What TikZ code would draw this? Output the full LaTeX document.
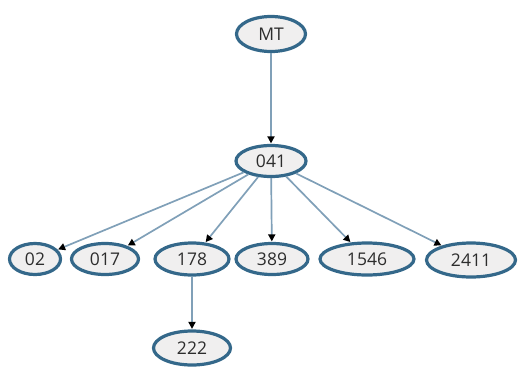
\documentclass[tikz,border=0pt]{standalone}
\usepackage{fontspec}
\setmainfont{Open Sans}
\usetikzlibrary{shapes.geometric,arrows.meta}
\definecolor{rim}{RGB}{52,104,138}
\definecolor{inside}{RGB}{240,239,239}
\definecolor{link}{RGB}{128,160,184}
\definecolor{txt}{RGB}{45,45,45}

\begin{document}
\begin{tikzpicture}[x=1pt,y=-1pt,
  nd/.style={ellipse,draw=rim,fill=inside,line width=3.2pt,inner sep=0pt,
    text=txt,font=\fontsize{17.5}{19}\selectfont},
  lnk/.style={draw=link,line width=1.7pt,-{Triangle[black,length=7pt,width=7pt]},shorten >=0.5pt}]
\useasboundingbox (0,0) rectangle (521,370);
\node [nd,minimum width=69pt,minimum height=35pt] (mt) at (271,34) {MT};
\node [nd,minimum width=70pt,minimum height=31pt] (n041) at (271,161) {041};
\node [nd,minimum width=51pt,minimum height=31pt] (n02) at (35,259) {02};
\node [nd,minimum width=67pt,minimum height=31pt] (n017) at (105,259) {017};
\node [nd,minimum width=74pt,minimum height=32pt] (n178) at (192,259) {178};
\node [nd,minimum width=72pt,minimum height=31pt] (n389) at (272,259) {389};
\node [nd,minimum width=94pt,minimum height=32pt] (n1546) at (367,259) {1546};
\node [nd,minimum width=89pt,minimum height=34pt] (n2411) at (471,260) {2411};
\node [nd,minimum width=77pt,minimum height=34pt] (n222) at (192,348) {222};
\draw [lnk] (mt) -- (n041);
\draw [lnk] (n041) -- (n02);
\draw [lnk] (n041) -- (n017);
\draw [lnk] (n041) -- (n178);
\draw [lnk] (n041) -- (n389);
\draw [lnk] (n041) -- (n1546);
\draw [lnk] (n041) -- (n2411);
\draw [lnk] (n178) -- (n222);
\end{tikzpicture}
\end{document}
